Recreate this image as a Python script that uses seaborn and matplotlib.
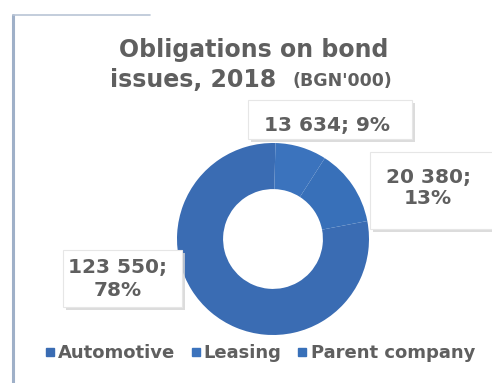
import matplotlib
matplotlib.use("Agg")
import matplotlib.pyplot as plt
from matplotlib.patches import Rectangle
from matplotlib.lines import Line2D
import seaborn as sns

categories = ["Automotive", "Leasing", "Parent company"]
values = [123550, 13634, 20380]
percents = [78, 9, 13]
colors = ["#3A6CB3", "#3B73BD", "#3870B9"]

sns.set_theme(style="white")
plt.rcParams["font.family"] = ["DejaVu Sans"]

W, H = 492, 383
fig = plt.figure(figsize=(W / 100, H / 100), dpi=100)
fig.patch.set_facecolor("white")


def fx(x):
    return x / W


def fy(y):
    return 1 - y / H


TEXT = "#5f5f5f"

# page border fragments on the left and top
fig.add_artist(Line2D([fx(13), fx(13)], [fy(15), fy(383)], color="#9fb0c8", lw=2.2))
fig.add_artist(Line2D([fx(13), fx(150)], [fy(15), fy(15)], color="#b9c5d6", lw=1.2))

# doughnut
cx, cy, r = 273, 239, 96
ax = fig.add_axes([fx(cx - r), fy(cy + r), 2 * r / W, 2 * r / H])
start = 90 - (percents[1] + percents[2]) * 3.6
wedges, _ = ax.pie(values, colors=colors, startangle=start, counterclock=False,
                   radius=1.0, wedgeprops=dict(width=0.48, edgecolor="none"))
ax.set_xlim(-1, 1)
ax.set_ylim(-1, 1)
ax.set_aspect("equal")
ax.axis("off")

# title
fig.text(fx(254), fy(50), "Obligations on bond", ha="center", va="center",
         fontsize=17, fontweight="bold", color=TEXT)
fig.text(fx(110), fy(80), "issues, 2018", ha="left", va="center",
         fontsize=17, fontweight="bold", color=TEXT)
fig.text(fx(292), fy(81), "(BGN'000)", ha="left", va="center",
         fontsize=12.5, fontweight="bold", color=TEXT)


def label_box(x0, y0, x1, y1):
    fig.add_artist(Rectangle((fx(x0 + 3), fy(y1 + 3)), fx(x1 - x0), (y1 - y0) / H,
                             transform=fig.transFigure, facecolor="#d4d4d4",
                             edgecolor="none", alpha=0.8, zorder=1))
    fig.add_artist(Rectangle((fx(x0), fy(y1)), fx(x1 - x0), (y1 - y0) / H,
                             transform=fig.transFigure, facecolor="white",
                             edgecolor="#e6e6e6", lw=0.8, zorder=2))


def fmt(v):
    return f"{v:,}".replace(",", " ")


# data labels
label_box(248, 100, 412, 139)
fig.text(fx(390), fy(126), f"{fmt(values[1])}; {percents[1]}%", ha="right",
         va="center", fontsize=14.5, fontweight="bold", color=TEXT, zorder=3)

label_box(370, 152, 500, 229)
fig.text(fx(428), fy(188), f"{fmt(values[2])};\n{percents[2]}%", ha="center",
         va="center", fontsize=14.5, fontweight="bold", color=TEXT, zorder=3,
         linespacing=1.2)

label_box(63, 250, 182, 307)
fig.text(fx(118), fy(279), f"{fmt(values[0])};\n{percents[0]}%", ha="center",
         va="center", fontsize=14.5, fontweight="bold", color=TEXT, zorder=3,
         linespacing=1.2)

# legend
handles = [Line2D([], [], marker="s", linestyle="none", markersize=5.5,
                  markerfacecolor=c, markeredgecolor=c) for c in colors]
leg = fig.legend(handles, categories, loc="center", bbox_to_anchor=(fx(260), fy(353)),
                 ncol=3, frameon=False, handlelength=0.5, handletextpad=0.2,
                 columnspacing=0.9, prop=dict(size=13, weight="bold"))
for t in leg.get_texts():
    t.set_color(TEXT)

fig.savefig("out.png", dpi=100, facecolor="white")
